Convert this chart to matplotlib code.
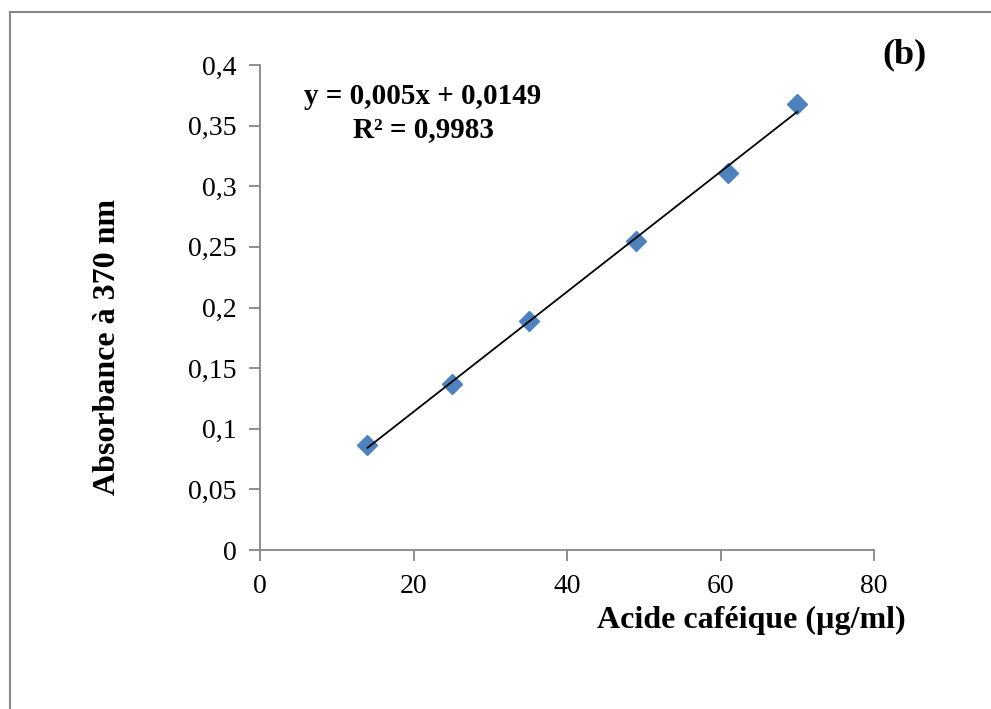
import matplotlib.pyplot as plt
import numpy as np

# calibration data, caffeic acid at 370 nm
conc = [14, 25, 35, 49, 61, 70]
absorb = [0.087, 0.137, 0.189, 0.255, 0.311, 0.368]
yticks = [0, 0.05, 0.1, 0.15, 0.2, 0.25, 0.3, 0.35, 0.4]
xticks = [0, 20, 40, 60, 80]

plt.rcParams['font.family'] = ['Liberation Serif', 'DejaVu Serif']

fig = plt.figure(figsize=(9.91, 7.09), dpi=100)
ax = fig.add_axes([260/991, 1 - 550/709, (874-260)/991, (550-65)/709])

slope, icpt = np.polyfit(conc, absorb, 1)
xs = np.array([conc[0], conc[-1]])
ax.plot(xs, slope*xs + icpt, color='black', lw=1.3, zorder=3)
ax.plot(conc, absorb, ls='none', marker='D', ms=10.5, color='#4F81BD', zorder=2)

ax.set_xlim(0, 80)
ax.set_ylim(0, 0.4)
ax.set_xticks(xticks)
ax.set_yticks(yticks)
ax.set_yticklabels([('%g' % t).replace('.', ',') for t in yticks])
ax.set_xticklabels([str(t) for t in xticks])
for s in ['top', 'right']:
    ax.spines[s].set_visible(False)
for s in ['left', 'bottom']:
    ax.spines[s].set_color('#868686')
    ax.spines[s].set_linewidth(1.3)
ax.tick_params(direction='out', length=8, width=1.3, color='#868686',
               labelsize=20, pad=9)

fig.text(751/991, 1 - 620/709, 'Acide caféique (µg/ml)', fontsize=23,
         fontweight='bold', ha='center', va='center')
fig.text(108/991, 1 - 347/709, 'Absorbance à 370 nm', fontsize=23,
         fontweight='bold', ha='center', va='center', rotation=90)
fig.text(423/991, 1 - 97/709, 'y = 0,005x + 0,0149', fontsize=21,
         fontweight='bold', ha='center', va='center')
fig.text(423/991, 1 - 130/709, 'R² = 0,9983', fontsize=21,
         fontweight='bold', ha='center', va='center')
fig.text(905/991, 1 - 55/709, '(b)', fontsize=26,
         fontweight='bold', ha='center', va='center')

# outer frame (left and top edges visible)
fig.add_artist(plt.Line2D([10/991, 10/991], [0, 1 - 12/709], color='#888888',
                          lw=1.5, transform=fig.transFigure))
fig.add_artist(plt.Line2D([10/991, 1], [1 - 12/709, 1 - 12/709], color='#888888',
                          lw=1.5, transform=fig.transFigure))

fig.savefig('out.png', dpi=100)
